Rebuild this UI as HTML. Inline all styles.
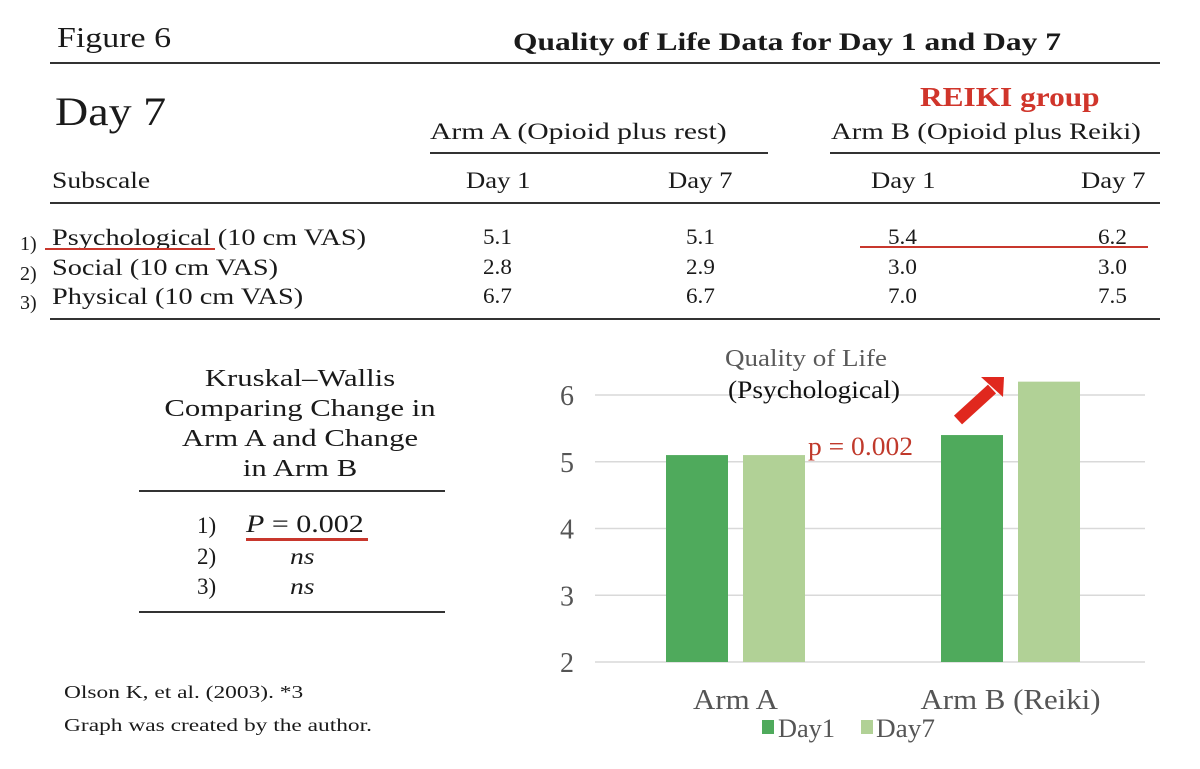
<!DOCTYPE html>
<html><head><meta charset="utf-8">
<style>
body{margin:0;background:#fff;}
#root{position:relative;width:1200px;height:769px;overflow:hidden;font-family:"Liberation Serif",serif;color:#1a1a1a;}
.t{position:absolute;white-space:nowrap;line-height:1;transform-origin:0 0;transform:scaleX(1.2);}
.hl{position:absolute;height:2px;background:#333;}
.rl{position:absolute;height:3px;background:#c8372d;}
</style></head><body>
<div id="root">
<div class="t" style="left:57px;top:24px;font-size:29px;transform:scaleX(1.17)">Figure 6</div>
<div class="t" style="left:513px;top:30px;font-size:25px;font-weight:bold;transform:scaleX(1.26)">Quality of Life Data for Day 1 and Day 7</div>
<div class="hl" style="left:50px;top:62px;width:1110px;"></div>
<div class="t" style="left:55px;top:92px;font-size:40px;transform:scaleX(1.15)">Day 7</div>
<div class="t" style="left:920px;top:84px;font-size:27px;font-weight:bold;color:#d0352b;transform:scaleX(1.16)">REIKI group</div>
<div class="t" style="left:430px;top:120px;font-size:23px;transform:scaleX(1.29)">Arm A (Opioid plus rest)</div>
<div class="t" style="left:831px;top:120px;font-size:23px;transform:scaleX(1.25)">Arm B (Opioid plus Reiki)</div>
<div class="hl" style="left:430px;top:152px;width:338px;"></div>
<div class="hl" style="left:830px;top:152px;width:330px;"></div>
<div class="t" style="left:52px;top:169px;font-size:23px;">Subscale</div>
<div class="t" style="left:466px;top:169px;font-size:23px;transform:scaleX(1.16)">Day 1</div>
<div class="t" style="left:668px;top:169px;font-size:23px;transform:scaleX(1.16)">Day 7</div>
<div class="t" style="left:871px;top:169px;font-size:23px;transform:scaleX(1.16)">Day 1</div>
<div class="t" style="left:1081px;top:169px;font-size:23px;transform:scaleX(1.16)">Day 7</div>
<div class="hl" style="left:50px;top:202px;width:1110px;"></div>
<div id="rows"></div>
<div class="rl" style="left:45px;top:248px;width:170px;height:2px;"></div>
<div class="rl" style="left:860px;top:246px;width:288px;height:2px;"></div>
<div class="hl" style="left:50px;top:318px;width:1110px;"></div>

<div class="t" style="left:140px;top:364px;width:320px;text-align:center;font-size:24px;line-height:30px;white-space:normal;transform-origin:50% 0;transform:scaleX(1.28)">Kruskal–Wallis<br>Comparing Change in<br>Arm A and Change<br>in Arm B</div>
<div class="hl" style="left:139px;top:490px;width:306px;"></div>
<div class="t" style="left:197px;top:514px;font-size:23px;transform:none">1)</div>
<div class="t" style="left:246px;top:512px;font-size:25px;"><i>P</i> = 0.002</div>
<div class="rl" style="left:246px;top:538px;width:122px;"></div>
<div class="t" style="left:197px;top:545px;font-size:23px;transform:none">2)</div>
<div class="t" style="left:290px;top:545px;font-size:23px;font-style:italic;">ns</div>
<div class="t" style="left:197px;top:575px;font-size:23px;transform:none">3)</div>
<div class="t" style="left:290px;top:575px;font-size:23px;font-style:italic;">ns</div>
<div class="hl" style="left:139px;top:611px;width:306px;"></div>
<div class="t" style="left:64px;top:683px;font-size:18px;transform:scaleX(1.3)">Olson K, et al. (2003). *3</div>
<div class="t" style="left:64px;top:716px;font-size:18px;transform:scaleX(1.3)">Graph was created by the author.</div>

<svg id="chart" style="position:absolute;left:0;top:0" width="1200" height="769"></svg>
</div>
<script>
const subscales=["Psychological (10 cm VAS)","Social (10 cm VAS)","Physical (10 cm VAS)"];
const tableA1=["5.1","2.8","6.7"];
const tableA7=["5.1","2.9","6.7"];
const tableB1=["5.4","3.0","7.0"];
const tableB7=["6.2","3.0","7.5"];
const categories=["Arm A","Arm B (Reiki)"];
const day1Values=[5.1,5.4];
const day7Values=[5.1,6.2];
const yTicks=[2,3,4,5,6];

const rows=document.getElementById('rows');
const rowTops=[226,256,285];
function addText(parent,txt,left,top,size,name,sx){
  const d=document.createElement('div');
  d.className='t';d.textContent=txt;
  d.style.left=left+'px';d.style.top=top+'px';d.style.fontSize=size+'px';
  d.style.transform='scaleX('+sx+')';
  
  
  parent.appendChild(d);return d;
}
subscales.forEach((s,i)=>{
  const t=rowTops[i];
  addText(rows,(i+1)+')',20,t+8,20,'row-number',1);
  addText(rows,s,52,t,23,'subscale-name',1.23);
  addText(rows,tableA1[i],483,t,22,'arm-a-day1-value',1.05);
  addText(rows,tableA7[i],686,t,22,'arm-a-day7-value',1.05);
  addText(rows,tableB1[i],888,t,22,'arm-b-day1-value',1.05);
  addText(rows,tableB7[i],1098,t,22,'arm-b-day7-value',1.05);
});

const svg=document.getElementById('chart');
const NS='http://www.w3.org/2000/svg';
const x0=595,x1=1145,yBase=662,unit=66.75;
function yScale(v){return yBase-(v-2)*unit;}
const band=(x1-x0)/categories.length;
function xCenter(i){return x0+band*(i+0.5)+3;}
function el(tag,attrs){const e=document.createElementNS(NS,tag);for(const k in attrs)e.setAttribute(k,attrs[k]);svg.appendChild(e);return e;}
yTicks.forEach(v=>{
  const g=el('line',{x1:x0,x2:x1,y1:yScale(v),y2:yScale(v),stroke:'#d9d9d9','stroke-width':1.5});
  
  
  const t=el('text',{x:567,y:yScale(v)+10,'text-anchor':'middle','font-size':28,fill:'#555','font-family':'Liberation Serif, serif'});
  t.textContent=v;
  
  
});
const bw=62,gap=15;
const catWidths=[85,180];
categories.forEach((c,i)=>{
  const cx=xCenter(i);
  const b1=el('rect',{x:cx-gap/2-bw,y:yScale(day1Values[i]),width:bw,height:yScale(2)-yScale(day1Values[i]),fill:'#4faa5c'});
  
  
  const b7=el('rect',{x:cx+gap/2,y:yScale(day7Values[i]),width:bw,height:yScale(2)-yScale(day7Values[i]),fill:'#b1d196'});
  
  
  const t=el('text',{x:cx-catWidths[i]/2,y:709,'font-size':28,fill:'#555','font-family':'Liberation Serif, serif',textLength:catWidths[i],lengthAdjust:'spacingAndGlyphs'});
  t.textContent=c;
  
  
});
let t=el('text',{x:725,y:366,'font-size':24,fill:'#595959','font-family':'Liberation Serif, serif',textLength:162,lengthAdjust:'spacingAndGlyphs'});
t.textContent='Quality of Life';


t=el('text',{x:728,y:398,'font-size':25,fill:'#111','font-family':'Liberation Serif, serif',textLength:172,lengthAdjust:'spacingAndGlyphs'});
t.textContent='(Psychological)';


t=el('text',{x:808,y:455,'font-size':26,fill:'#c0392b','font-family':'Liberation Serif, serif',textLength:105,lengthAdjust:'spacingAndGlyphs'});
t.textContent='p = 0.002';


const shaft=el('line',{x1:958,y1:420,x2:992,y2:389,stroke:'#e0281e','stroke-width':12});


const arrow=el('polygon',{points:'981,377 1004,377 1003,397',fill:'#e0281e'});


const l1=el('rect',{x:762,y:720,width:12,height:14,fill:'#4faa5c'});


t=el('text',{x:778,y:737,'font-size':26,fill:'#555','font-family':'Liberation Serif, serif',textLength:57,lengthAdjust:'spacingAndGlyphs'});
t.textContent='Day1';


const l2=el('rect',{x:861,y:720,width:12,height:14,fill:'#b1d196'});


t=el('text',{x:876,y:737,'font-size':26,fill:'#555','font-family':'Liberation Serif, serif',textLength:59,lengthAdjust:'spacingAndGlyphs'});
t.textContent='Day7';


</script>
</body></html>
